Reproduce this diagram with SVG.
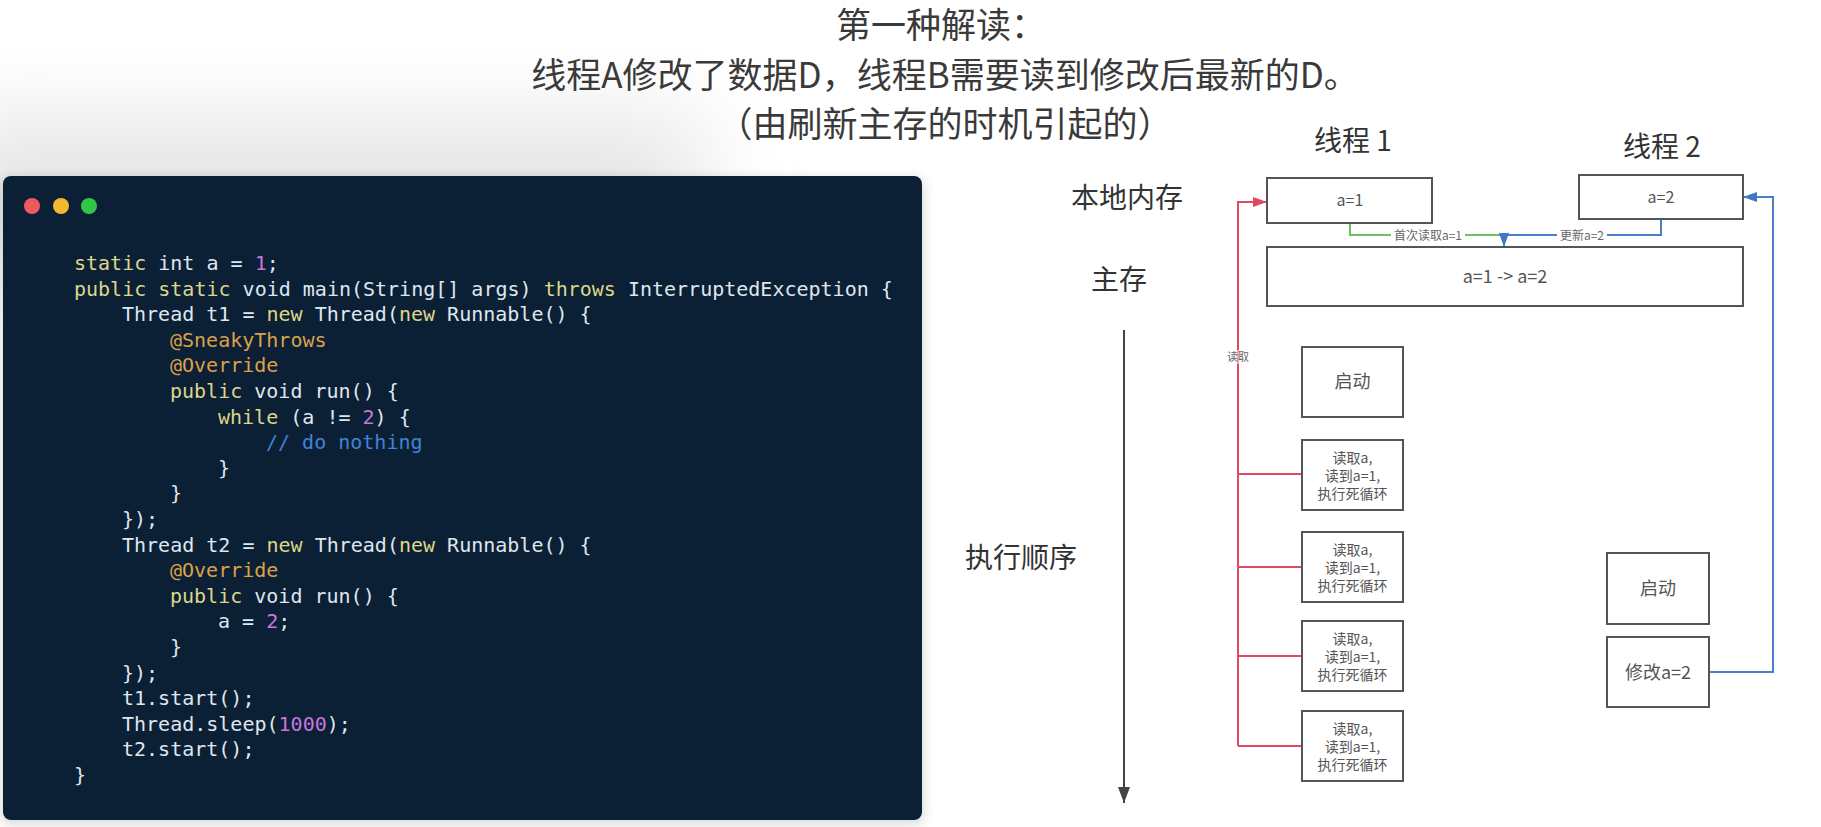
<svg xmlns="http://www.w3.org/2000/svg" width="1821" height="827" viewBox="0 0 1821 827">
<defs>
<style>
.title{font-family:"Noto Sans CJK SC","Noto Sans",sans-serif;font-size:35px;fill:#3a3a3a;text-anchor:middle}
.lbl{font-family:"Noto Sans CJK SC","Noto Sans",sans-serif;font-size:28px;fill:#333;text-anchor:middle}
.box{fill:#fff;stroke:#555;stroke-width:2}
.bt{font-family:"Noto Sans CJK SC","Noto Sans",sans-serif;fill:#555;text-anchor:middle}
.small{font-family:"Noto Sans CJK SC","Noto Sans",sans-serif;font-size:12px;fill:#666;text-anchor:middle}
.code{font-family:"DejaVu Sans Mono","Liberation Mono",monospace;font-size:20px;fill:#dfe6ee}
.kw{fill:#dcd68a}
.num{fill:#c678dd}
.ann{fill:#dca14a}
.cmt{fill:#3f83d8}
.red{fill:none;stroke:#e24a60;stroke-width:2}
.blue{fill:none;stroke:#4a7fcc;stroke-width:2}
.green{fill:none;stroke:#6cbf62;stroke-width:2}
.axis{fill:none;stroke:#444;stroke-width:2}
</style>
<marker id="arR" viewBox="0 0 14 10" refX="14" refY="5" markerWidth="14" markerHeight="10" markerUnits="userSpaceOnUse" orient="auto"><path d="M0,0 L14,5 L0,10 Z" fill="#e24a60"/></marker>
<marker id="arB" viewBox="0 0 14 10" refX="14" refY="5" markerWidth="14" markerHeight="10" markerUnits="userSpaceOnUse" orient="auto"><path d="M0,0 L14,5 L0,10 Z" fill="#3f78c8"/></marker>
<marker id="arK" viewBox="0 0 16 12" refX="16" refY="6" markerWidth="16" markerHeight="12" markerUnits="userSpaceOnUse" orient="auto"><path d="M0,0 L16,6 L0,12 Z" fill="#444"/></marker>
<filter id="soft" x="-50%" y="-50%" width="200%" height="200%"><feGaussianBlur stdDeviation="45"/></filter>
<filter id="sh" x="-5%" y="-5%" width="110%" height="110%"><feGaussianBlur stdDeviation="6"/></filter>
</defs>
<rect x="0" y="0" width="1821" height="827" fill="#fff"/>
<rect x="-60" y="120" width="760" height="140" fill="#e4e4e4" filter="url(#soft)"/>

<g id="title">
<text class="title" x="941" y="38">第一种解读：</text>
<text class="title" x="945" y="88">线程A修改了数据D，线程B需要读到修改后最新的D。</text>
<text class="title" x="945" y="137">（由刷新主存的时机引起的）</text>
</g>

<g id="code-panel">
<rect x="1" y="178" width="923" height="646" rx="8" fill="#000" opacity="0.15" filter="url(#sh)"/>
<rect x="3" y="176" width="919" height="644" rx="8" fill="#0c2035"/>
<circle cx="32" cy="206" r="8" fill="#ec5a5f"/>
<circle cx="61" cy="206" r="8" fill="#f4b731"/>
<circle cx="89" cy="206" r="8" fill="#33c44a"/>
<text class="code" x="74" y="270"><tspan class="kw">static</tspan> int a = <tspan class="num">1</tspan>;</text>
<text class="code" x="74" y="295.6"><tspan class="kw">public static</tspan> void main(String[] args) <tspan class="kw">throws</tspan> InterruptedException {</text>
<text class="code" x="122" y="321.2">Thread t1 = <tspan class="kw">new</tspan> Thread(<tspan class="kw">new</tspan> Runnable() {</text>
<text class="code ann" x="170" y="346.8">@SneakyThrows</text>
<text class="code ann" x="170" y="372.4">@Override</text>
<text class="code" x="170" y="398"><tspan class="kw">public</tspan> void run() {</text>
<text class="code" x="218" y="423.6"><tspan class="kw">while</tspan> (a != <tspan class="num">2</tspan>) {</text>
<text class="code cmt" x="266" y="449.2">// do nothing</text>
<text class="code" x="218" y="474.8">}</text>
<text class="code" x="170" y="500.4">}</text>
<text class="code" x="122" y="526">});</text>
<text class="code" x="122" y="551.6">Thread t2 = <tspan class="kw">new</tspan> Thread(<tspan class="kw">new</tspan> Runnable() {</text>
<text class="code ann" x="170" y="577.2">@Override</text>
<text class="code" x="170" y="602.8"><tspan class="kw">public</tspan> void run() {</text>
<text class="code" x="218" y="628.4">a = <tspan class="num">2</tspan>;</text>
<text class="code" x="170" y="654">}</text>
<text class="code" x="122" y="679.6">});</text>
<text class="code" x="122" y="705.2">t1.start();</text>
<text class="code" x="122" y="730.8">Thread.sleep(<tspan class="num">1000</tspan>);</text>
<text class="code" x="122" y="756.4">t2.start();</text>
<text class="code" x="74" y="782">}</text>
</g>

<g id="labels">
<text class="lbl" x="1353" y="151">线程 1</text>
<text class="lbl" x="1662" y="157">线程 2</text>
<text class="lbl" x="1127" y="208">本地内存</text>
<text class="lbl" x="1119" y="290">主存</text>
<text class="lbl" x="1021" y="568">执行顺序</text>
</g>

<g id="connectors">
<path class="axis" d="M1124,330 V803" marker-end="url(#arK)"/>
<path class="green" d="M1350,223 V235 H1504"/>
<path class="blue" d="M1661,219 V235 H1504 V247" marker-end="url(#arB)"/>
<path class="red" d="M1238,746 V202 H1267" marker-end="url(#arR)"/>
<path class="red" d="M1238,474 H1302 M1238,567 H1302 M1238,656 H1302 M1238,746 H1302"/>
<path class="blue" d="M1709,672 H1773 V197 H1743" marker-end="url(#arB)"/>
<rect x="1391" y="228" width="74" height="14" fill="#fff"/>
<text class="small" x="1428" y="239.5">首次读取a=1</text>
<rect x="1557" y="228" width="50" height="14" fill="#fff"/>
<text class="small" x="1582" y="239.5">更新a=2</text>
<rect x="1224" y="350" width="28" height="14" fill="#fff" opacity="0.5"/>
<text class="small" x="1238" y="361" style="font-size:11px">读取</text>
</g>

<g id="t1-local">
<rect class="box" x="1267" y="178" width="165" height="45"/>
<text class="bt" x="1350" y="206" font-size="16">a=1</text>
</g>
<g id="t2-local">
<rect class="box" x="1579" y="175" width="164" height="44"/>
<text class="bt" x="1661" y="203" font-size="16">a=2</text>
</g>
<g id="main-memory">
<rect class="box" x="1267" y="247" width="476" height="59"/>
<text class="bt" x="1505" y="283" font-size="18">a=1 -&gt; a=2</text>
</g>

<g id="t1-start">
<rect class="box" x="1302" y="347" width="101" height="70"/>
<text class="bt" x="1352.5" y="388" font-size="18">启动</text>
</g>
<g id="t1-read1">
<rect class="box" x="1302" y="440" width="101" height="70"/>
<text class="bt" font-size="14"><tspan x="1352.5" y="463">读取a,</tspan><tspan x="1352.5" y="481">读到a=1,</tspan><tspan x="1352.5" y="499">执行死循环</tspan></text>
</g>
<g id="t1-read2">
<rect class="box" x="1302" y="532" width="101" height="70"/>
<text class="bt" font-size="14"><tspan x="1352.5" y="555">读取a,</tspan><tspan x="1352.5" y="573">读到a=1,</tspan><tspan x="1352.5" y="591">执行死循环</tspan></text>
</g>
<g id="t1-read3">
<rect class="box" x="1302" y="621" width="101" height="70"/>
<text class="bt" font-size="14"><tspan x="1352.5" y="644">读取a,</tspan><tspan x="1352.5" y="662">读到a=1,</tspan><tspan x="1352.5" y="680">执行死循环</tspan></text>
</g>
<g id="t1-read4">
<rect class="box" x="1302" y="711" width="101" height="70"/>
<text class="bt" font-size="14"><tspan x="1352.5" y="734">读取a,</tspan><tspan x="1352.5" y="752">读到a=1,</tspan><tspan x="1352.5" y="770">执行死循环</tspan></text>
</g>

<g id="t2-start">
<rect class="box" x="1607" y="553" width="102" height="71"/>
<text class="bt" x="1658" y="595" font-size="18">启动</text>
</g>
<g id="t2-modify">
<rect class="box" x="1607" y="637" width="102" height="70"/>
<text class="bt" x="1658" y="679" font-size="18">修改a=2</text>
</g>
</svg>
